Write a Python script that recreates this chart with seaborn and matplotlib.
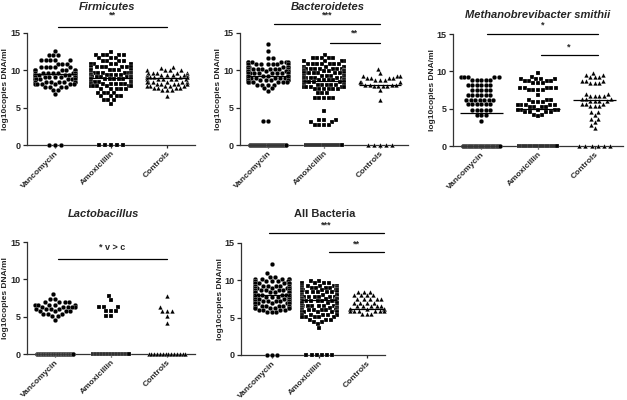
import warnings
import numpy as np
import pandas as pd
import matplotlib
matplotlib.use('Agg')
import matplotlib.pyplot as plt
import seaborn as sns

warnings.filterwarnings('ignore')

groups = ['Vancomycin', 'Amoxicillin', 'Controls']
group_markers = ['o', 's', '^']

# Firmicutes
fir_van_lv = [12.6, 12.0, 11.4, 10.9, 10.4, 10.0, 9.7, 9.4, 9.1, 8.8, 8.5, 8.2, 7.8, 7.4, 6.8, 0.0]
fir_van_n = [1, 3, 5, 3, 5, 8, 9, 9, 8, 7, 7, 6, 4, 2, 1, 3]
fir_amo_lv = [12.4, 12.0, 11.6, 11.2, 10.8, 10.4, 10.0, 9.7, 9.4, 9.1, 8.8, 8.5, 8.2, 7.9, 7.5, 7.0, 6.5, 6.0, 5.5, 0.0]
fir_amo_n = [1, 5, 3, 4, 5, 7, 8, 9, 9, 9, 9, 8, 8, 7, 5, 4, 4, 3, 1, 5]
fir_con_lv = [10.5, 10.3, 10.0, 9.7, 9.4, 9.1, 8.8, 8.5, 8.2, 7.9, 7.6, 7.3, 6.5]
fir_con_n = [1, 1, 4, 5, 6, 7, 6, 6, 5, 5, 4, 3, 1]

# Bacteroidetes
bac_van_lv = [13.5, 12.6, 11.7, 11.1, 10.8, 10.5, 10.2, 9.9, 9.6, 9.3, 9.0, 8.7, 8.4, 8.1, 7.6, 7.2, 3.2, 0.0]
bac_van_n = [1, 1, 2, 6, 7, 7, 8, 8, 8, 8, 8, 7, 6, 4, 2, 1, 2, 40]
bac_amo_lv = [12.0, 11.6, 11.2, 10.8, 10.5, 10.2, 9.9, 9.6, 9.3, 9.0, 8.7, 8.4, 8.1, 7.8, 7.5, 6.9, 6.3, 4.5, 3.4, 3.1, 2.7, 0.0]
bac_amo_n = [1, 5, 5, 7, 8, 8, 8, 8, 8, 8, 8, 8, 8, 7, 6, 3, 5, 1, 3, 2, 4, 40]
bac_con_lv = [10.2, 9.6, 9.2, 9.0, 8.7, 8.4, 8.1, 7.9, 7.3, 6.0, 0.0]
bac_con_n = [1, 1, 3, 4, 3, 3, 4, 4, 1, 1, 5]

# Methanobrevibacter smithii
met_van_lv = [9.2, 8.9, 8.2, 7.5, 6.8, 6.2, 5.6, 4.8, 4.1, 3.3, 0.0]
met_van_n = [5, 5, 6, 5, 6, 7, 6, 5, 3, 1, 45]
met_amo_lv = [9.8, 9.3, 9.0, 8.7, 8.4, 7.8, 7.5, 6.8, 6.2, 5.9, 5.5, 5.2, 4.8, 4.5, 4.2, 4.0, 0.0]
met_amo_n = [1, 1, 4, 4, 3, 5, 4, 1, 3, 3, 5, 4, 6, 4, 2, 1, 45]
met_con_lv = [9.8, 9.5, 9.2, 8.7, 8.4, 7.0, 6.7, 6.3, 6.0, 5.6, 5.3, 4.5, 4.1, 3.6, 3.2, 2.8, 2.4, 0.0]
met_con_n = [1, 2, 3, 3, 3, 2, 4, 3, 4, 3, 3, 2, 1, 2, 1, 1, 1, 6]

# Lactobacillus
lac_van_lv = [8.0, 7.4, 6.9, 6.6, 6.3, 6.0, 5.7, 5.3, 5.1, 4.6, 0.0]
lac_van_n = [1, 2, 4, 5, 5, 4, 4, 3, 2, 1, 60]
lac_amo_lv = [7.8, 7.2, 6.3, 5.8, 5.1, 0.0]
lac_amo_n = [1, 1, 3, 3, 2, 50]
lac_con_lv = [7.8, 6.3, 5.8, 5.1, 4.1, 0.0]
lac_con_n = [1, 1, 3, 1, 1, 14]

# All Bacteria
all_van_lv = [12.2, 11.0, 10.5, 10.2, 9.9, 9.6, 9.3, 9.0, 8.7, 8.4, 8.1, 7.8, 7.5, 7.2, 6.9, 6.6, 6.3, 6.0, 5.7, 0.0]
all_van_n = [1, 1, 2, 5, 6, 7, 7, 7, 7, 7, 8, 7, 7, 7, 7, 6, 6, 4, 3, 3]
all_amo_lv = [9.9, 9.6, 9.3, 9.0, 8.7, 8.4, 8.1, 7.8, 7.5, 7.2, 6.9, 6.6, 6.3, 6.0, 5.7, 5.4, 5.1, 4.7, 4.4, 4.2, 3.6, 0.0]
all_amo_n = [2, 4, 7, 8, 8, 8, 8, 8, 9, 9, 9, 9, 9, 9, 8, 7, 5, 3, 2, 1, 1, 6]
all_con_lv = [8.5, 8.0, 7.5, 7.0, 6.5, 6.2, 5.9, 5.5]
all_con_n = [3, 4, 5, 4, 5, 8, 6, 3]

# medians drawn as horizontal lines
fir_medians = [9.5, 9.0, 9.0]
bac_medians = [9.3, 8.6, 8.0]
met_medians = [4.45, 5.0, 6.1]
lac_medians = [0.0, 0.0, 0.0]
all_medians = [8.0, 7.4, 6.2]

# significance bars: (x from, x to, y, label, label y)
fir_sig = [(0.05, 2.0, 15.8, '**', 17.4)]
bac_sig = [(0.1, 2.0, 16.2, '***', 17.4), (1.1, 2.0, 13.7, '**', 15.0)]
met_sig = [(0.1, 2.05, 15.0, '*', 16.2), (1.05, 2.05, 12.2, '*', 13.2)]
lac_sig = [(0.05, 2.0, 12.7, '* v > c', 14.3)]
all_sig = [(-0.06, 2.36, 16.3, '***', 17.4), (1.2, 2.36, 13.8, '**', 14.8)]

panels = [
    ('Firmicutes', True, [(fir_van_lv, fir_van_n), (fir_amo_lv, fir_amo_n), (fir_con_lv, fir_con_n)], fir_medians, fir_sig),
    ('Bacteroidetes', True, [(bac_van_lv, bac_van_n), (bac_amo_lv, bac_amo_n), (bac_con_lv, bac_con_n)], bac_medians, bac_sig),
    ('Methanobrevibacter smithii', True, [(met_van_lv, met_van_n), (met_amo_lv, met_amo_n), (met_con_lv, met_con_n)], met_medians, met_sig),
    ('Lactobacillus', True, [(lac_van_lv, lac_van_n), (lac_amo_lv, lac_amo_n), (lac_con_lv, lac_con_n)], lac_medians, lac_sig),
    ('All Bacteria', False, [(all_van_lv, all_van_n), (all_amo_lv, all_amo_n), (all_con_lv, all_con_n)], all_medians, all_sig),
]

# --- 2. Layout (pixels in a 627x400 figure): left, right, y of value 0, y of value 15 ---
W, H = 627, 400
boxes = [(27, 195, 145, 33), (240, 408, 145, 33), (453, 623, 146, 34),
         (27, 195, 354, 242), (241, 385, 355, 243)]
xlims = [(-0.5, 2.5), (-0.5, 2.5), (-0.5, 2.5), (-0.5, 2.5), (-0.65, 2.38)]
title_pos = [(107, 7), (328, 7), (538, 15), (103, 214), (325, 214)]
squeeze = 0.72 / 0.8   # narrower swarms than seaborn's default 0.8
zero_step, zero_max = 0.11, 0.66  # GraphPad-like overlapping row of zeros

sns.set_style('white')
plt.rcParams['font.family'] = ['Liberation Sans', 'DejaVu Sans']
plt.rcParams['font.weight'] = 'bold'

fig = plt.figure(figsize=(W / 100, H / 100), dpi=100)
swarm_sets = []  # (collection, category index)

for (title, italic, series, medians, sigs), (l, r, y0, y15), xl, (tx, ty) in zip(panels, boxes, xlims, title_pos):
    ax = fig.add_axes([l / W, 1 - y0 / H, (r - l) / W, (y0 - y15) / H])
    rows = []
    for g, (lv, n) in zip(groups, series):
        for v in np.repeat(lv, n):
            rows.append({'group': g, 'value': v})
    df = pd.DataFrame(rows)

    ax.set_xlim(*xl)
    ax.set_ylim(0, 15)
    for i, (g, m) in enumerate(zip(groups, group_markers)):
        n_before = len(ax.collections)
        sns.swarmplot(data=df[df['group'] == g], x='group', y='value', order=groups,
                      marker=m, color='black', size=3.3,
                      edgecolor='white', linewidth=0.15, ax=ax, zorder=3)
        for c in ax.collections[n_before:]:
            swarm_sets.append((c, i))
    for c in ax.collections:
        c.set_clip_on(False)

    for i, med in enumerate(medians):
        if med > 0:
            ax.hlines(med, i - 0.38, i + 0.38, color='black', linewidth=0.9, zorder=4)

    for x1, x2, y, lab, ly in sigs:
        ax.plot([x1, x2], [y, y], color='black', linewidth=0.9, clip_on=False)
        ax.text((x1 + x2) / 2, ly, lab, ha='center', va='center', fontsize=6.5,
                fontweight='bold')

    ax.set_xlim(*xl)
    ax.set_ylim(0, 15)
    ax.set_yticks([0, 5, 10, 15])
    ax.set_xlabel('')
    ax.set_ylabel('log10copies DNA/ml', fontsize=6.0, fontweight='bold')
    ax.yaxis.label.set_va('center')
    ax.yaxis.set_label_coords(-21 / (r - l), 0.5)
    ax.set_xticks(range(3))
    ax.set_xticklabels(groups, rotation=45, ha='right', rotation_mode='anchor')
    ax.tick_params(axis='y', labelsize=6.5, length=3, width=0.9, pad=1.5, direction='out', left=True)
    ax.tick_params(axis='x', labelsize=6.0, length=2, width=0.9, pad=1.5, direction='out', bottom=True)
    for lab in ax.get_xticklabels() + ax.get_yticklabels():
        lab.set_fontweight('bold')
    sns.despine(ax=ax)
    for s in ['left', 'bottom']:
        ax.spines[s].set_linewidth(0.9)
        ax.spines[s].set_color('#333333')

    fig.text(tx / W, 1 - ty / H, title, ha='center', va='center', fontsize=8,
             fontweight='bold', fontstyle='italic' if italic else 'normal')

# seaborn lays out swarms at draw time; draw once, then freeze and tidy the positions
fig.canvas.draw()
for c, i in swarm_sets:
    if 'draw' in c.__dict__:
        del c.draw
    off = np.array(c.get_offsets())
    if not len(off):
        continue
    off[:, 0] = i + (off[:, 0] - i) * squeeze
    zero = off[:, 1] == 0
    nz = int(zero.sum())
    if nz > 1:
        span = min((nz - 1) * zero_step, zero_max)
        off[zero, 0] = i + np.linspace(-span / 2, span / 2, nz)
    c.set_offsets(off)

fig.savefig('out.png', dpi=100)
